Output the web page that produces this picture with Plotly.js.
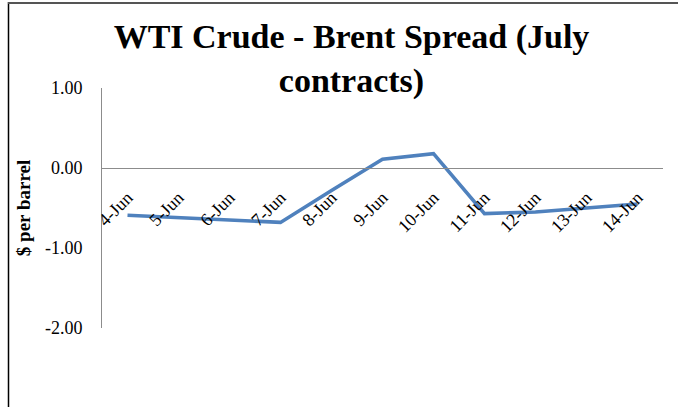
<!DOCTYPE html>
<html>
<head>
<meta charset="utf-8">
<script src="https://cdn.plot.ly/plotly-3.0.1.min.js"></script>
<style>
html,body{margin:0;padding:0;background:#fff;}
#chart{width:678px;height:407px;}
</style>
</head>
<body>
<div id="chart"></div>
<script>
var categories = ['4-Jun','5-Jun','6-Jun','7-Jun','8-Jun','9-Jun','10-Jun','11-Jun','12-Jun','13-Jun','14-Jun'];
var spread = [-0.59,-0.62,-0.65,-0.68,-0.28,0.11,0.18,-0.57,-0.55,-0.50,-0.45];
var yTickVals = [1,0,-1,-2];
var yTickText = ['1.00','0.00','-1.00','-2.00'];

var W = 678, H = 407;
var mL = 102, mR = 15, mT = 88, mB = 79;
var pw = W - mL - mR, ph = H - mT - mB;
function px(x){ return (x - mL) / pw; }
function py(y){ return (H - mB - y) / ph; }

var trace = {
  x: categories,
  y: spread,
  type: 'scatter',
  mode: 'lines',
  line: {color: '#4F81BD', width: 3.6},
  hoverinfo: 'skip'
};

var layout = {
  width: W, height: H,
  margin: {l: mL, r: mR, t: mT, b: mB, pad: 0},
  paper_bgcolor: '#ffffff',
  plot_bgcolor: '#ffffff',
  showlegend: false,
  title: {
    text: '<b>WTI Crude - Brent Spread (July<br>contracts)</b>',
    font: {family: 'Liberation Serif, serif', size: 34, color: '#000'},
    x: 351.5 / W, xanchor: 'center',
    yref: 'container',
    y: 1 - 48 / H, yanchor: 'top'
  },
  xaxis: {
    type: 'category',
    range: [-0.5, categories.length - 0.5],
    anchor: 'free',
    position: 2/3,
    showline: true, linecolor: '#8c8c8c', linewidth: 1,
    showgrid: false, zeroline: false,
    ticks: '',
    tickangle: -45,
    ticklabelstandoff: 11,
    tickfont: {family: 'Liberation Serif, serif', size: 18, color: '#000'}
  },
  yaxis: {
    range: [-2, 1],
    tickvals: yTickVals,
    ticktext: yTickText,
    showline: true, linecolor: '#8c8c8c', linewidth: 1,
    showgrid: false, zeroline: false,
    ticks: '',
    ticklabelstandoff: 15,
    tickfont: {family: 'Liberation Serif, serif', size: 18, color: '#000'},
    title: {
      text: '<b>$ per barrel</b>',
      font: {family: 'Liberation Serif, serif', size: 19, color: '#000'},
      standoff: 9
    },
    automargin: false
  },
  shapes: [
    {type: 'line', xref: 'paper', yref: 'paper', x0: px(8.5), x1: px(8.5), y0: py(2), y1: py(407), line: {color: '#000', width: 1.5}},
    {type: 'line', xref: 'paper', yref: 'paper', x0: px(8), x1: px(678), y0: py(3), y1: py(3), line: {color: '#555', width: 2}}
  ]
};

Plotly.newPlot('chart', [trace], layout, {displayModeBar: false, staticPlot: true});
</script>
</body>
</html>
